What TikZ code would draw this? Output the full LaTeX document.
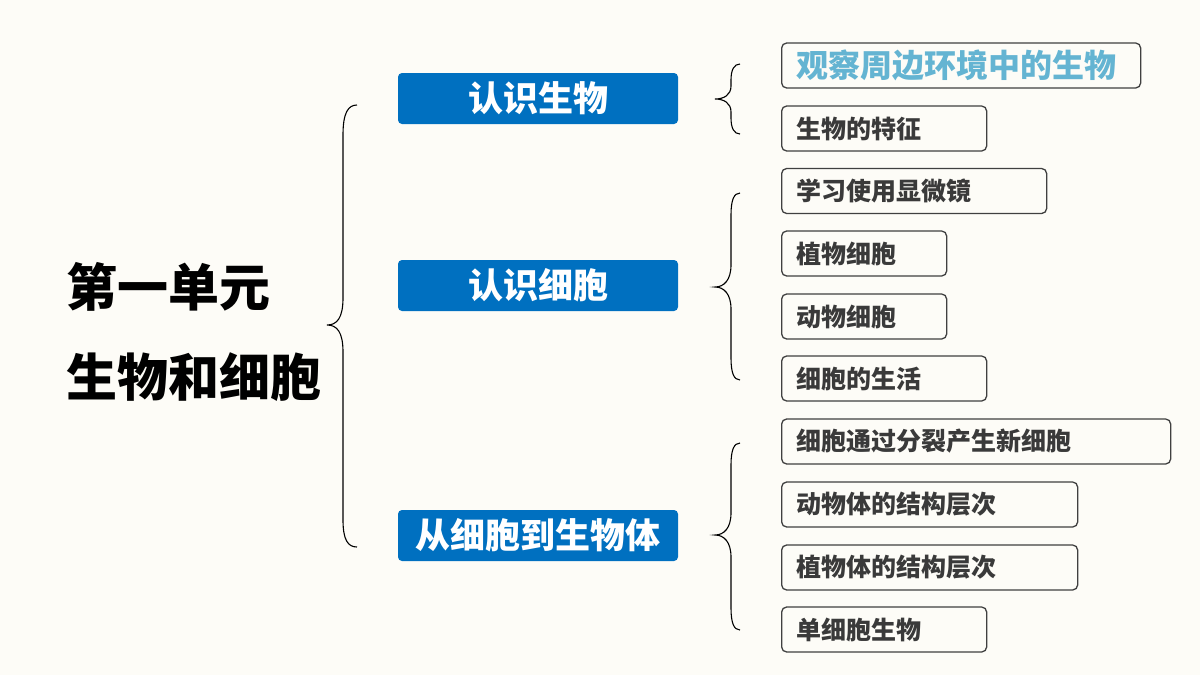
\documentclass[tikz,border=0pt]{standalone}
\usepackage{fontspec}
\newfontfamily\cjk{Noto Sans CJK SC}
\definecolor{bgc}{HTML}{FDFCF7}
\definecolor{blueb}{HTML}{0070C0}
\definecolor{txtc}{HTML}{3A3A3A}
\definecolor{lblue}{HTML}{64B4D2}
\definecolor{bordc}{HTML}{404040}
\begin{document}
\begin{tikzpicture}[x=1pt,y=-1pt,
  titletext/.style={font=\cjk\bfseries\fontsize{51}{56}\selectfont, anchor=west, inner sep=0pt, text=black},
  topic/.style={fill=blueb, rounded corners=4pt, minimum width=280pt, minimum height=51pt, inner sep=0pt,
    text=white, font=\cjk\bfseries\fontsize{35}{40}\selectfont},
  item/.style={draw=bordc, line width=1.3pt, rounded corners=5pt, anchor=west, minimum height=45pt,
    inner xsep=15pt, inner ysep=0pt, align=left, text=txtc, font=\cjk\bfseries\fontsize{25}{30}\selectfont},
  bracestyle/.style={draw=black, line width=1.1pt}]
\fill[bgc] (0,0) rectangle (1200,675);
\useasboundingbox (0,0) rectangle (1200,675);

% title
\node[titletext] (t1) at (66,287) {第一单元};
\node[titletext] (t2) at (66,377) {生物和细胞};

% big brace
\path[bracestyle] (357,105) .. controls (348,105) and (343,113) .. (343,135) -- (343,298)
  .. controls (343,318) and (337,325) .. (327,325)
  .. controls (337,325) and (343,332) .. (343,352) -- (343,520)
  .. controls (343,540) and (348,547) .. (357,547);

% topics
\node[topic] (a) at (538,98.5) {认识生物};
\node[topic] (b) at (538,285.5) {认识细胞};
\node[topic] (c) at (538,535.5) {从细胞到生物体};

% small braces
\path[bracestyle] (740,64) .. controls (734,64) and (731,70) .. (731,80) -- (731,86)
  .. controls (731,95) and (724,99) .. (715,99)
  .. controls (724,99) and (731,103) .. (731,112) -- (731,118)
  .. controls (731,128) and (734,134) .. (740,134);
\path[bracestyle] (740,193) .. controls (734,193) and (731,200) .. (731,215) -- (731,265)
  .. controls (731,280) and (724,287) .. (715,287)
  .. controls (724,287) and (731,294) .. (731,309) -- (731,358)
  .. controls (731,373) and (734,380) .. (740,380);
\path[bracestyle] (740,443) .. controls (734,443) and (731,450) .. (731,465) -- (731,513)
  .. controls (731,528) and (724,535) .. (715,535)
  .. controls (724,535) and (731,542) .. (731,557) -- (731,608)
  .. controls (731,623) and (734,630) .. (740,630);

% items
\node[item, text width=329pt, text=lblue, font=\cjk\bfseries\fontsize{32}{36}\selectfont] (i1) at (781,65.5) {观察周边环境中的生物};
\node[item, text width=175pt] (i2) at (781,128.5) {生物的特征};
\node[item, text width=235pt] (i3) at (781,191) {学习使用显微镜};
\node[item, text width=135pt] (i4) at (781,253.5) {植物细胞};
\node[item, text width=135pt] (i5) at (781,316.5) {动物细胞};
\node[item, text width=175pt] (i6) at (781,378.5) {细胞的生活};
\node[item, text width=359pt] (i7) at (781,441.5) {细胞通过分裂产生新细胞};
\node[item, text width=266pt] (i8) at (781,504.5) {动物体的结构层次};
\node[item, text width=266pt] (i9) at (781,567.5) {植物体的结构层次};
\node[item, text width=175pt] (i10) at (781,629.5) {单细胞生物};
\end{tikzpicture}
\end{document}
